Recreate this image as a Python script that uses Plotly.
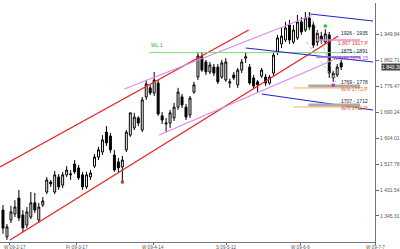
import plotly.graph_objects as go

# ---------------- data ----------------
idx = list(range(86))
open_ = [1365, 1276, 1332, 1352, 1405, 1349, 1315, 1342, 1389, 1332,
         1382, 1425, 1458, 1425, 1475, 1448, 1482, 1482, 1518, 1505,
         1482, 1442, 1475, 1511, 1541, 1558, 1624, 1611, 1548, 1525,
         1508, 1565, 1614, 1638, 1671, 1631, 1741, 1771, 1754, 1787,
         1678, 1651, 1654, 1671, 1707, 1741, 1707, 1681, 1757, 1807,
         1874, 1857, 1824, 1840, 1840, 1807, 1797, 1787, 1814, 1781,
         1830, 1870, 1840, 1804, 1791, 1810, 1807, 1787, 1820, 1890,
         1917, 1930, 1980, 1923, 1937, 1990, 1963, 2003, 1980, 1923,
         1943, 1923, 1947, 1804, 1814, 1854]
high = [1382, 1319, 1379, 1398, 1432, 1365, 1375, 1425, 1422, 1389,
        1408, 1475, 1465, 1495, 1485, 1492, 1511, 1498, 1531, 1515,
        1492, 1492, 1498, 1551, 1575, 1614, 1644, 1621, 1565, 1538,
        1545, 1631, 1688, 1688, 1677, 1741, 1797, 1781, 1824, 1797,
        1691, 1671, 1698, 1721, 1771, 1751, 1717, 1744, 1791, 1887,
        1890, 1864, 1857, 1850, 1850, 1864, 1870, 1801, 1824, 1837,
        1867, 1890, 1850, 1814, 1797, 1837, 1817, 1814, 1890, 1947,
        1970, 1990, 1997, 1980, 2013, 2006, 2023, 2023, 1990, 1963,
        1957, 1966, 1957, 1827, 1850, 1864]
low = [1286, 1266, 1322, 1342, 1329, 1292, 1305, 1335, 1355, 1322,
       1375, 1418, 1442, 1418, 1432, 1438, 1475, 1465, 1485, 1465,
       1432, 1435, 1465, 1505, 1531, 1548, 1578, 1555, 1492, 1488,
       1462, 1558, 1608, 1631, 1644, 1624, 1731, 1747, 1744, 1678,
       1651, 1624, 1638, 1661, 1698, 1704, 1664, 1671, 1751, 1797,
       1824, 1814, 1817, 1810, 1784, 1801, 1791, 1771, 1797, 1771,
       1820, 1854, 1781, 1767, 1757, 1804, 1777, 1781, 1810, 1880,
       1903, 1923, 1917, 1917, 1930, 1947, 1957, 1963, 1903, 1910,
       1917, 1917, 1804, 1791, 1807, 1830]
close = [1305, 1309, 1359, 1375, 1339, 1306, 1359, 1389, 1365, 1375,
         1395, 1465, 1452, 1482, 1442, 1482, 1498, 1485, 1492, 1472,
         1442, 1482, 1488, 1541, 1565, 1598, 1588, 1565, 1498, 1505,
         1531, 1624, 1688, 1674, 1654, 1731, 1784, 1754, 1797, 1684,
         1664, 1654, 1688, 1707, 1757, 1714, 1674, 1737, 1781, 1877,
         1830, 1824, 1847, 1820, 1791, 1854, 1857, 1791, 1804, 1830,
         1857, 1874, 1787, 1777, 1781, 1830, 1787, 1807, 1880, 1937,
         1943, 1970, 1930, 1963, 1990, 1957, 2003, 1973, 1913, 1953,
         1930, 1950, 1820, 1820, 1840, 1840]

x_tick_pos = [1.75, 18.5, 37.75, 56.25, 74.75, 93.5]
x_tick_lbl = ["W 09-2-17", "Fr 09-3-17", "W 09-4-14", "S 09-5-12", "W 09-6-9", "W 09-7-7"]
y_tick_val = [1345.31, 1431.54, 1517.78, 1604.01, 1690.24, 1776.47, 1862.71, 1949.84]
y_tick_lbl = ["1 345.31", "1 431.54", "1 517.78", "1 604.01", "1 690.24", "1 776.47", "1 862.71", "1 949.84"]

# trend lines: x (bar index) and price pairs
red_lower_x, red_lower_y = [1.75, 84.25], [1265.6, 1943.3]
red_upper_x, red_upper_y = [-0.75, 61.75], [1508.1, 1963.2]
pink_upper_x, pink_upper_y = [30.5, 77.25], [1767.2, 2009.8]
pink_lower_x, pink_lower_y = [39.25, 83.0], [1614.4, 1863.6]
wl1_x, wl1_y = [36.75, 89.75], [1888.0, 1888.0]
blue_top_x, blue_top_y = [77.25, 93.0], [2016.4, 1993.1]
blue_mid_x, blue_mid_y = [61.0, 93.0], [1903.4, 1856.9]
blue_low_x, blue_low_y = [65.0, 93.0], [1750.6, 1697.5]
gray_diag_x, gray_diag_y = [77.25, 83.75], [2016.4, 1797.1]
gray_diag2_x, gray_diag2_y = [76.25, 83.75], [1923.3, 1790.5]

# zone levels on the right
zone_levels = [1930.0, 1873.5, 1777.2, 1770.6, 1714.1, 1707.4]
zone_start = [78.75, 78.75, 76.75, 73.0, 76.75, 73.0]
zone_end = [89.75, 89.75, 89.75, 89.75, 89.75, 89.75]
zone_color = ["#ee88cc", "#aa66dd", "#aaaaaa", "#ffaa66", "#aaaaaa", "#ffaa66"]
zone_width = [1.5, 1.5, 3, 1, 3, 1]

zone_text = ["1926 - 1935", "1,867 1917.P", "1875 - 1891", "W.N.W 1874.15",
             "1769 - 1778", "W.N 1772.P", "1707 - 1712", "W.N 1711.P"]
zone_text_y = [1953.0, 1920.0, 1893.0, 1870.0, 1790.0, 1767.0, 1727.0, 1704.0]
zone_text_color = ["#222222", "#ee3333", "#222222", "#8844cc",
                   "#222222", "#ee5522", "#222222", "#ee5522"]

last_price = 1840.30
last_price_lbl = "1 840.30"

# pivot markers
pivot_x = [81, 83, 30]
pivot_y = [1976.5, 1780.0, 1458.0]
pivot_color = ["#22bb22", "#aa33cc", "#ee2222"]

# ---------------- figure ----------------
fig = go.Figure()

def line(xs, ys, color, width=1.2, dash="solid"):
    fig.add_trace(go.Scatter(x=xs, y=ys, mode="lines",
                             line=dict(color=color, width=width, dash=dash),
                             hoverinfo="skip", showlegend=False))

line(red_upper_x, red_upper_y, "#ee2222", 1.3)
line(red_lower_x, red_lower_y, "#ee2222", 1.3)
line(pink_upper_x, pink_upper_y, "#dd88ee", 1.2)
line(pink_lower_x, pink_lower_y, "#dd88ee", 1.2)
line(wl1_x, wl1_y, "#77dd77", 1)
line(blue_top_x, blue_top_y, "#2222cc", 1.2)
line(blue_mid_x, blue_mid_y, "#2222cc", 1.2)
line(blue_low_x, blue_low_y, "#2222cc", 1.2)
line(gray_diag_x, gray_diag_y, "#aaaaaa", 0.8, "dot")
line(gray_diag2_x, gray_diag2_y, "#aaaaaa", 0.8, "dot")

for lv, xs, xe, c, w in zip(zone_levels, zone_start, zone_end, zone_color, zone_width):
    line([xs, xe], [lv, lv], c, w)

fig.add_trace(go.Candlestick(
    x=idx, open=open_, high=high, low=low, close=close,
    increasing=dict(fillcolor="white", line=dict(color="black", width=1)),
    decreasing=dict(fillcolor="black", line=dict(color="black", width=1)),
    whiskerwidth=0, hoverinfo="skip", showlegend=False))

fig.add_trace(go.Scatter(x=pivot_x, y=pivot_y, mode="markers",
                         marker=dict(color=pivot_color, size=3, symbol="square"),
                         hoverinfo="skip", showlegend=False))

for t, yv, c in zip(zone_text, zone_text_y, zone_text_color):
    fig.add_annotation(x=92.25, y=yv, text=t, showarrow=False, xanchor="right",
                       yanchor="middle", font=dict(size=5, color=c, family="Liberation Sans"))

fig.add_annotation(x=36.75, y=1912, text="WL.1", showarrow=False, xanchor="left",
                   yanchor="middle", font=dict(size=5, color="#33aa33", family="Liberation Sans"))

# x-axis date labels (drawn as text so the first one is not clipped at the edge)
for i, (p, t) in enumerate(zip(x_tick_pos, x_tick_lbl)):
    fig.add_annotation(x=p, xref="x", y=0, yref="paper", yshift=-1, text=t,
                       showarrow=False, yanchor="top",
                       xanchor="left" if i == 0 else "center",
                       xshift=-8 if i == 0 else 0,
                       font=dict(size=4.6, color="#555555", family="Liberation Sans"))

fig.add_annotation(xref="paper", x=1, xshift=6, y=last_price, text=last_price_lbl,
                   showarrow=False, xanchor="left", yanchor="middle",
                   bgcolor="#444444", borderpad=0,
                   font=dict(size=5, color="white", family="Liberation Sans"))

fig.update_layout(
    width=400, height=249,
    margin=dict(l=0, r=23, t=3, b=7),
    paper_bgcolor="white", plot_bgcolor="white",
    showlegend=False,
    xaxis=dict(range=[-0.75, 93.5], showgrid=False, zeroline=False,
               rangeslider=dict(visible=False),
               tickmode="array", tickvals=x_tick_pos, ticktext=[""] * len(x_tick_pos),
               ticks="outside", ticklen=2, tickcolor="#666666",
               showline=True, linecolor="#777777", linewidth=1),
    yaxis=dict(range=[1258.9, 2052.9], side="right", showgrid=False, zeroline=False,
               tickmode="array", tickvals=y_tick_val, ticktext=y_tick_lbl,
               ticks="outside", ticklen=3, tickcolor="#666666",
               showline=True, linecolor="#777777", linewidth=1,
               tickfont=dict(size=5, color="#555555", family="Liberation Sans")),
    boxgap=0.3,
)

fig.write_html("out.html")
